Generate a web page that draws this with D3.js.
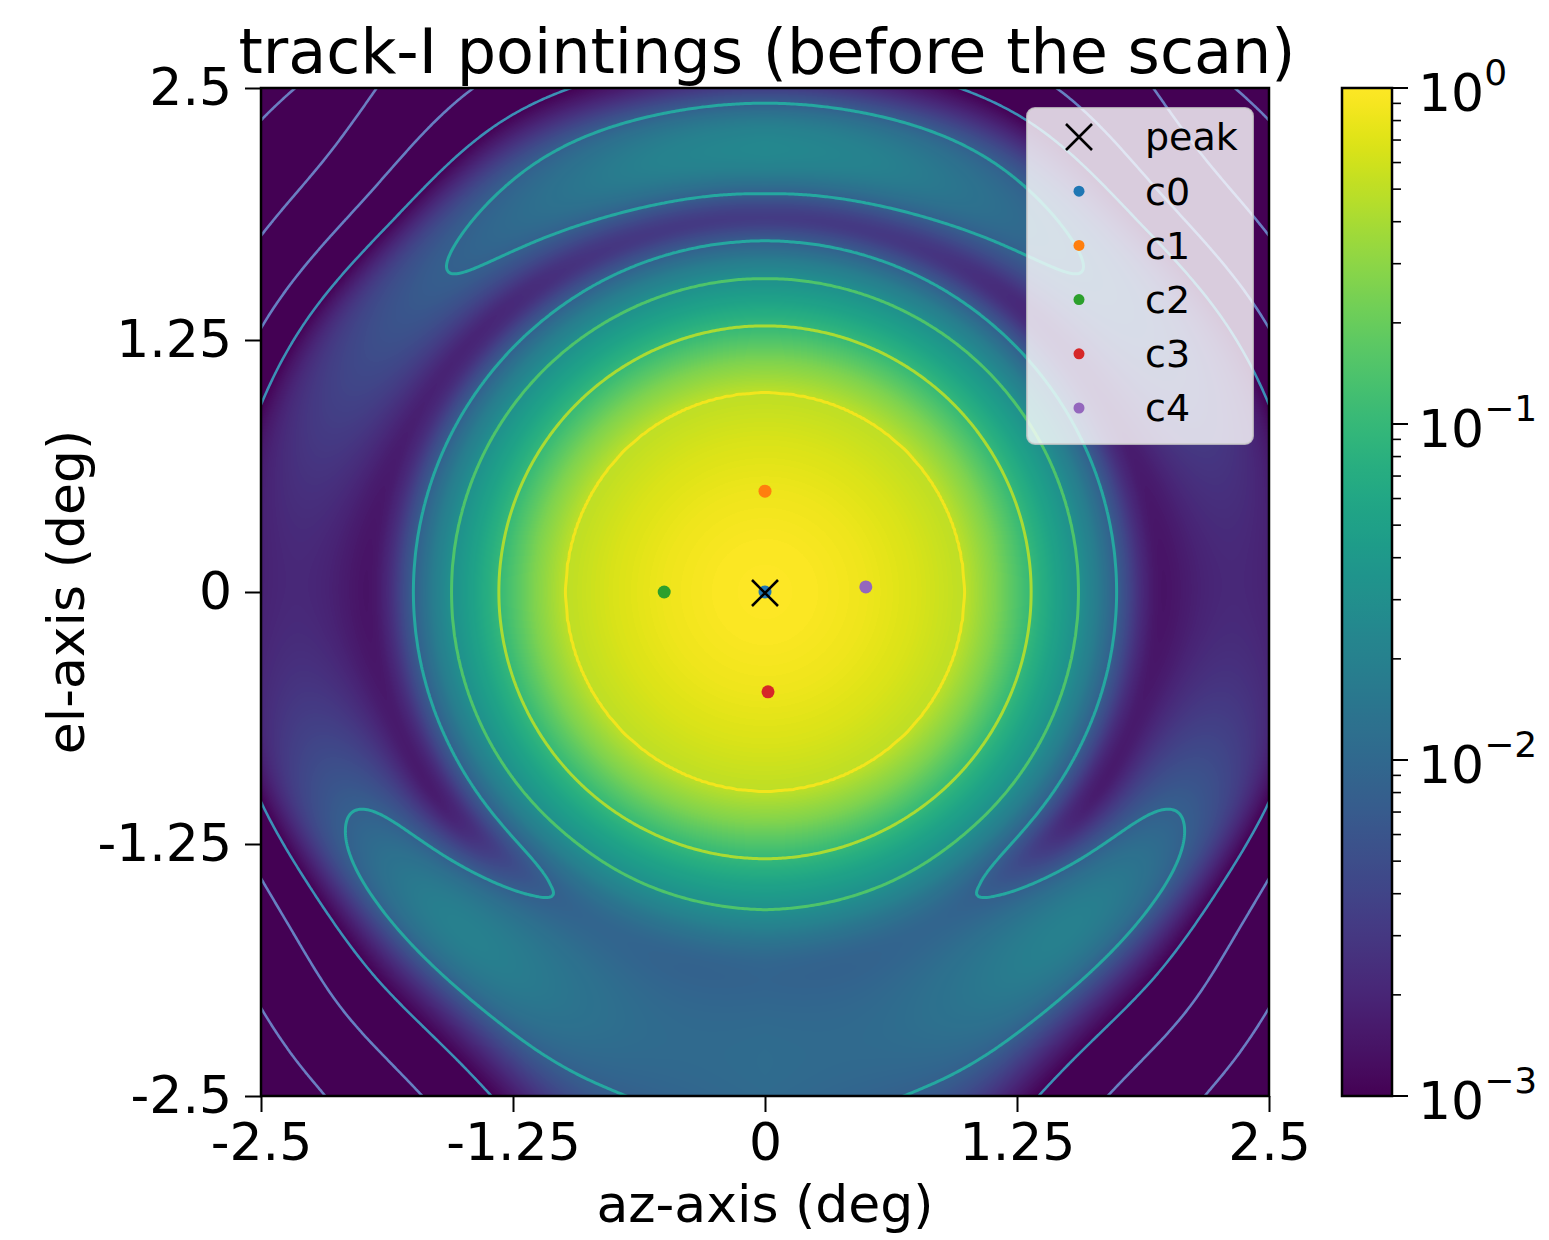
<!DOCTYPE html>
<html>
<head>
<meta charset="utf-8">
<script src="https://cdn.jsdelivr.net/npm/d3@7"></script>
<style>
  body { margin: 0; background: #fff; }
  svg text { font-family: "DejaVu Sans", sans-serif; fill: #000; }
</style>
</head>
<body>
<svg id="chart" width="1549" height="1240"></svg>
<script>
// ---- values ----
const axisTicks = [-2.5, -1.25, 0, 1.25, 2.5];
const axisTickLabels = ["-2.5", "-1.25", "0", "1.25", "2.5"];

// main beam: distance from the peak (deg) -> level (dB)
const beamRadius = [0, 0.25, 0.5, 0.75, 0.99, 1.15, 1.32, 1.45, 1.555, 1.65, 1.74, 1.8, 1.85, 1.9, 2.0, 2.2, 3.6];
const beamDb = [0, -0.19, -0.76, -1.72, -3, -5.9, -10, -12.9, -15, -17.6, -21, -24, -27, -30, -38, -55, -120];

// first sidelobe, by direction phi = atan2(el, |az|) (deg, -90 = bottom, 90 = top)
const lobePhi = [-90, -75, -60, -45, -30, -15, 0, 15, 30, 45, 60, 75, 90];
const lobeDb = [-19.3, -19.8, -17.5, -16, -20, -25, -27, -25.5, -23, -20.7, -19, -16.4, -15.8];
const lobeRadius = [2.3, 2.22, 2.25, 2.22, 2.3, 2.33, 2.3, 2.3, 2.26, 2.22, 2.2, 2.19, 2.19];
const lobeInner = [3.2, 2.6, 2.0, 1.0, 1.0, 1.7, 2.0, 1.7, 1.3, 1.0, 1.0, 0.9, 0.9];
const lobeOuter = [3.2, 2.4, 1.1, 1.0, 1.0, 1.5, 2.0, 1.5, 1.3, 1.0, 1.25, 0.95, 0.9];
// radial shape of the sidelobe: offset from its ridge (deg) -> dB below the ridge
const shapeOffset = [-0.6, -0.5, -0.4, -0.3, -0.2, -0.1, 0, 0.1, 0.2, 0.3, 0.4, 0.5, 0.6, 0.7, 0.8, 0.9, 1.0, 1.1, 1.2, 1.3, 1.4, 1.5, 1.6];
const shapeDb = [-30, -22, -14, -8, -3.5, -0.9, 0, -0.6, -2.4, -7, -11.2, -13.8, -16.5, -18.1, -19.7, -21.2, -22.7, -24.4, -26.2, -28, -29.7, -31.3, -33];

// weak second sidelobe in the corners
const farRadius = [2.9, 3.2, 3.45, 3.7];
const farDb = [-70, -50, -38.8, -40.5];
const farPhi = [-90, -45, 0, 45, 90];
const farGain = [-10, -8, -6, 0, -3];

// contour levels (dB)
const contourDb = [-40, -35, -30, -21, -15, -10, -3];

// pointings
const pointNames = ["c0", "c1", "c2", "c3", "c4"];
const pointAz = [0, 0, -0.5, 0.015, 0.5];
const pointEl = [0, 0.5, 0, -0.495, 0.025];
const peakAz = 0;
const peakEl = -0.005;

// colorbar
const cbarMajor = [1e-3, 1e-2, 1e-1, 1];
const cbarExp = ["\u22123", "\u22122", "\u22121", "0"];

// ---- styles ----
const contourColors = ["#6b7ec2", "#6680c2", "#3c90b6", "#25a8a0", "#4ec46a", "#aadb33", "#f2e51d"];
const pointColors = ["#1f77b4", "#ff7f0e", "#2ca02c", "#d62728", "#9467bd"];

const svg = d3.select("#chart");
const plot = { x0: 261, x1: 1269, y0: 88, y1: 1096 };

const x = d3.scaleLinear().domain([-2.5, 2.5]).range([plot.x0, plot.x1]);
const y = d3.scaleLinear().domain([-2.5, 2.5]).range([plot.y1, plot.y0]);

// ---- beam model built from the arrays (B-spline through the samples, no kinks) ----
const beam = d3.scaleLinear().domain(beamRadius).range(beamDb).clamp(true);
const far = d3.scaleLinear().domain(farRadius).range(farDb).clamp(true);
const phiT = d3.scaleLinear().domain(d3.extent(lobePhi)).range([0, 1]).clamp(true);
const farT = d3.scaleLinear().domain(d3.extent(farPhi)).range([0, 1]).clamp(true);
const offT = d3.scaleLinear().domain(d3.extent(shapeOffset)).range([0, 1]).clamp(true);
const lobeA = d3.interpolateBasis(lobeDb);
const lobeR = d3.interpolateBasis(lobeRadius);
const lobeIn = d3.interpolateBasis(lobeInner);
const lobeOut = d3.interpolateBasis(lobeOuter);
const shape = d3.interpolateBasis(shapeDb);
const farG = d3.interpolateBasis(farGain);

function levelDb(az, el) {
  const r = Math.hypot(az, el);
  const phi = Math.atan2(el, Math.abs(az)) * 180 / Math.PI;
  const t = phiT(phi);
  const R = lobeR(t);
  const w = r < R ? lobeIn(t) : lobeOut(t);
  const side = lobeA(t) + shape(offT((r - R) / w));
  const second = farG(farT(phi)) + far(r);
  const p = Math.pow(10, beam(r) / 10) + Math.pow(10, side / 10) + Math.pow(10, second / 10);
  return 10 * Math.log10(p);
}

// log colour scale 1e-3 .. 1, expressed in dB
const color = d3.scaleSequential(d3.interpolateViridis).domain([-30, 0]).clamp(true);
const lut = d3.range(1024).map(i => d3.rgb(color(-30 + 30 * i / 1023)));

// ---- heatmap ----
const W = plot.x1 - plot.x0, H = plot.y1 - plot.y0;
const canvas = document.createElement("canvas");
canvas.width = W;
canvas.height = H;
const ctx = canvas.getContext("2d");
const img = ctx.createImageData(W, H);
for (let py = 0; py < H; py++) {
  const el = y.invert(plot.y0 + py + 0.5);
  for (let px = 0; px < W; px++) {
    const az = x.invert(plot.x0 + px + 0.5);
    const v = levelDb(az, el);
    const k = Math.max(0, Math.min(1023, Math.round((v + 30) / 30 * 1023)));
    const c = lut[k];
    const o = (py * W + px) * 4;
    img.data[o] = c.r;
    img.data[o + 1] = c.g;
    img.data[o + 2] = c.b;
    img.data[o + 3] = 255;
  }
}
ctx.putImageData(img, 0, 0);

svg.append("defs").append("clipPath").attr("id", "plotclip")
  .append("rect")
  .attr("x", plot.x0).attr("y", plot.y0)
  .attr("width", W).attr("height", H);

svg.append("image")
  .attr("x", plot.x0).attr("y", plot.y0)
  .attr("width", W).attr("height", H)
  .attr("preserveAspectRatio", "none")
  .attr("href", canvas.toDataURL());

// ---- contours ----
const ext = 2.6, step = 0.01;
const N = Math.round(2 * ext / step) + 1;
const grid = new Float64Array(N * N);
for (let j = 0; j < N; j++) {
  for (let i = 0; i < N; i++) {
    grid[j * N + i] = levelDb(-ext + i * step, ext - j * step);
  }
}
const contours = d3.contours().size([N, N]).thresholds(contourDb)(grid);
const path = d3.geoPath(d3.geoTransform({
  point: function(gx, gy) {
    this.stream.point(x(-ext + (gx - 0.5) * step), y(ext - (gy - 0.5) * step));
  }
}));

svg.append("g")
  .attr("clip-path", "url(#plotclip)")
  .selectAll("path")
  .data(contours)
  .join("path")
  .attr("d", path)
  .attr("fill", "none")
  .attr("stroke", (d, i) => contourColors[i])
  .attr("stroke-width", (d, i) => (i < 3 ? 2.6 : 3));

// ---- pointings ----
const xMark = s => `M${-s},${-s}L${s},${s}M${-s},${s}L${s},${-s}`;

svg.append("g")
  .selectAll("circle")
  .data(pointNames)
  .join("circle")
  .attr("cx", (d, i) => x(pointAz[i]))
  .attr("cy", (d, i) => y(pointEl[i]))
  .attr("r", 6.5)
  .attr("fill", (d, i) => pointColors[i]);

svg.append("path")
  .attr("transform", `translate(${x(peakAz)},${y(peakEl)})`)
  .attr("d", xMark(13))
  .attr("stroke", "#000")
  .attr("stroke-width", 2.6)
  .attr("fill", "none");

// ---- axes ----
svg.append("rect")
  .attr("x", plot.x0).attr("y", plot.y0)
  .attr("width", W).attr("height", H)
  .attr("fill", "none")
  .attr("stroke", "#000")
  .attr("stroke-width", 2.5);

const xAxis = svg.append("g").attr("transform", `translate(0,${plot.y1})`)
  .call(d3.axisBottom(x).tickValues(axisTicks).tickFormat((d, i) => axisTickLabels[i]).tickSize(16).tickPadding(11));
const yAxis = svg.append("g").attr("transform", `translate(${plot.x0},0)`)
  .call(d3.axisLeft(y).tickValues(axisTicks).tickFormat((d, i) => axisTickLabels[i]).tickSize(16).tickPadding(13));
[xAxis, yAxis].forEach(g => {
  g.select(".domain").remove();
  g.selectAll(".tick line").attr("stroke", "#000").attr("stroke-width", 2);
  g.selectAll(".tick text").attr("font-size", 52).attr("font-family", "DejaVu Sans").attr("fill", "#000");
});

svg.append("text")
  .attr("x", (plot.x0 + plot.x1) / 2 + 2).attr("y", 73)
  .attr("text-anchor", "middle").attr("font-size", 62)
  .text("track-I pointings (before the scan)");

svg.append("text")
  .attr("x", (plot.x0 + plot.x1) / 2).attr("y", 1222)
  .attr("text-anchor", "middle").attr("font-size", 52)
  .text("az-axis (deg)");

svg.append("text")
  .attr("transform", `translate(84,${(plot.y0 + plot.y1) / 2}) rotate(-90)`)
  .attr("text-anchor", "middle").attr("font-size", 52)
  .text("el-axis (deg)");

// ---- legend ----
const legend = svg.append("g");
legend.append("rect")
  .attr("x", 1027).attr("y", 108).attr("width", 226).attr("height", 336)
  .attr("rx", 8)
  .attr("fill", "#fff").attr("fill-opacity", 0.8)
  .attr("stroke", "#ccc").attr("stroke-opacity", 0.8).attr("stroke-width", 2);
const legendNames = ["peak"].concat(pointNames);
const legendRow = d3.scaleLinear().domain([0, 5]).range([137, 408]);
legend.selectAll("text")
  .data(legendNames)
  .join("text")
  .attr("x", 1145)
  .attr("y", (d, i) => legendRow(i))
  .attr("dy", "0.35em")
  .attr("font-size", 38)
  .attr("fill", "#222")
  .text(d => d);
legend.append("path")
  .attr("transform", `translate(1079,${legendRow(0)})`)
  .attr("d", xMark(13))
  .attr("stroke", "#000").attr("stroke-width", 2.6).attr("fill", "none");
legend.selectAll("circle")
  .data(pointNames)
  .join("circle")
  .attr("cx", 1079)
  .attr("cy", (d, i) => legendRow(i + 1))
  .attr("r", 5.5)
  .attr("fill", (d, i) => pointColors[i]);

// ---- colorbar ----
const cb = { x0: 1342, x1: 1392 };
const cbY = d3.scaleLog().domain([1e-3, 1]).range([plot.y1, plot.y0]);
const grad = svg.select("defs").append("linearGradient")
  .attr("id", "cbgrad").attr("x1", 0).attr("y1", 1).attr("x2", 0).attr("y2", 0);
grad.selectAll("stop")
  .data(d3.range(65))
  .join("stop")
  .attr("offset", d => d / 64)
  .attr("stop-color", d => d3.interpolateViridis(d / 64));
svg.append("rect")
  .attr("x", cb.x0).attr("y", plot.y0)
  .attr("width", cb.x1 - cb.x0).attr("height", H)
  .attr("fill", "url(#cbgrad)")
  .attr("stroke", "#000").attr("stroke-width", 2.5);

const minor = [];
[-3, -2, -1].forEach(e => d3.range(2, 10).forEach(k => minor.push(k * Math.pow(10, e))));
svg.append("g").selectAll("line")
  .data(minor)
  .join("line")
  .attr("x1", cb.x1).attr("x2", cb.x1 + 9)
  .attr("y1", d => cbY(d)).attr("y2", d => cbY(d))
  .attr("stroke", "#000").attr("stroke-width", 1.6);
svg.append("g").selectAll("line")
  .data(cbarMajor)
  .join("line")
  .attr("x1", cb.x1).attr("x2", cb.x1 + 16)
  .attr("y1", d => cbY(d)).attr("y2", d => cbY(d))
  .attr("stroke", "#000").attr("stroke-width", 2);
const cbLabels = svg.append("g").selectAll("text")
  .data(cbarMajor)
  .join("text")
  .attr("x", 1418)
  .attr("y", d => cbY(d) + 23)
  .attr("font-size", 52)
  .text("10");
cbLabels.append("tspan")
  .attr("dy", -26)
  .attr("font-size", 36)
  .text((d, i) => cbarExp[i]);
</script>
</body>
</html>
